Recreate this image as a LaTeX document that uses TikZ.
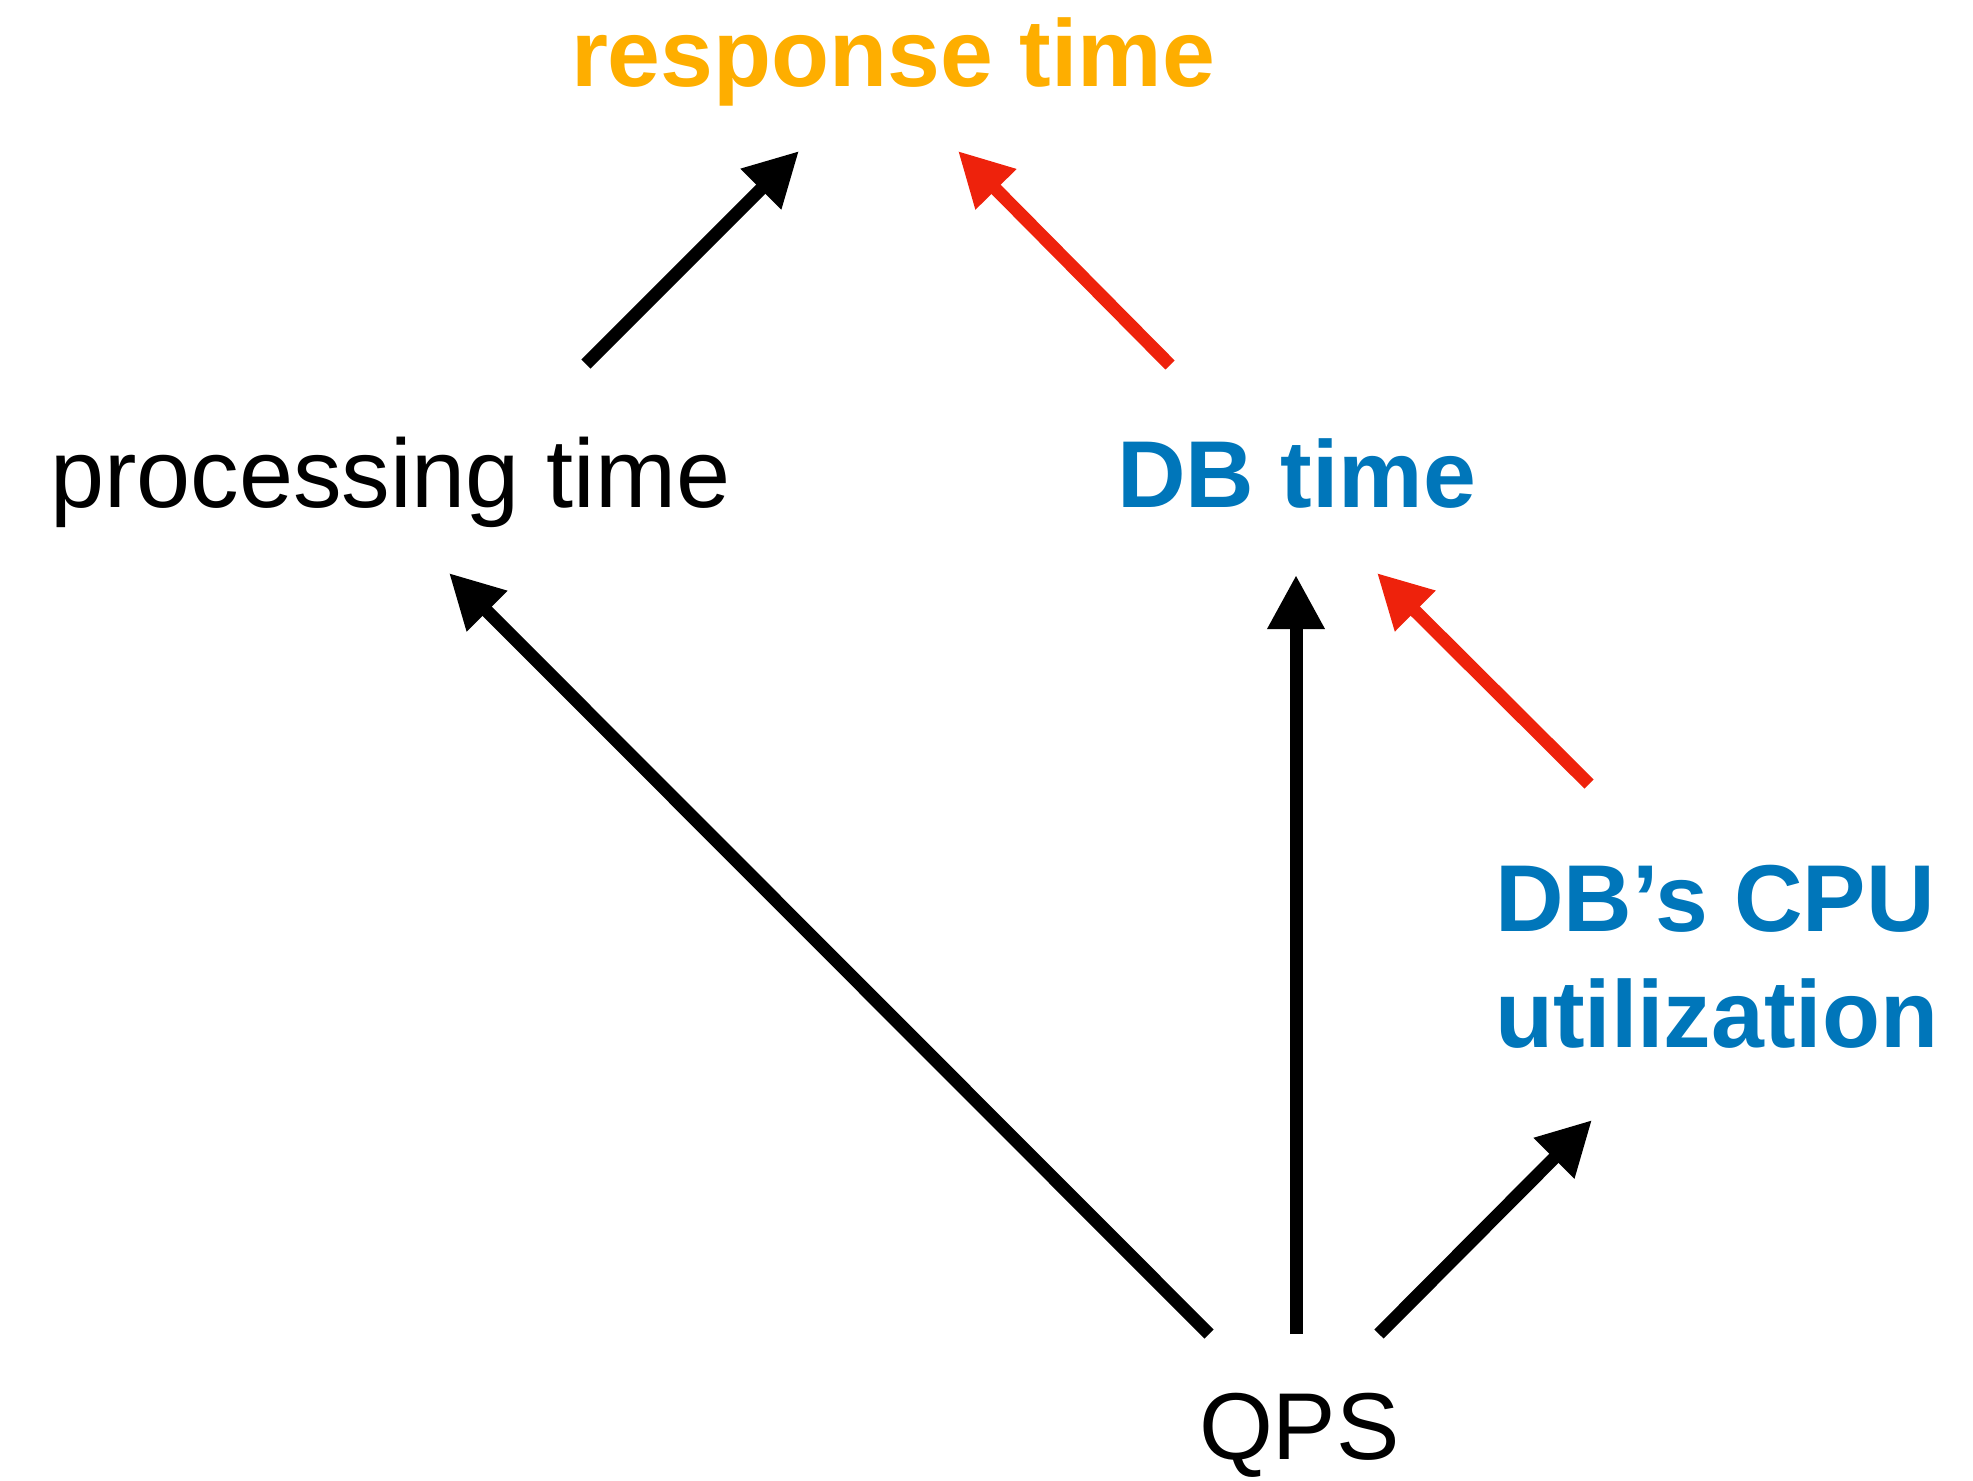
\documentclass[tikz,border=0pt]{standalone}
\usepackage{fontspec}
\setmainfont{Liberation Sans}
\usetikzlibrary{arrows.meta}
\definecolor{rtorange}{RGB}{254,174,0}
\definecolor{dbblue}{RGB}{0,118,186}
\definecolor{arrred}{RGB}{238,34,12}
\begin{document}
\begin{tikzpicture}[x=0.5pt,y=-0.5pt,
  lbl/.style={inner sep=0pt,outer sep=0pt,anchor=base west,font=\fontsize{47.5}{58}\selectfont},
  conn/.style={line width=6.5pt,-{Triangle[length=27pt,width=27pt]}},
  hot/.style={conn,draw=arrred,fill=arrred}]
\useasboundingbox (0,0) rectangle (1973,1480);
\node[lbl,text=rtorange,font=\fontsize{47.5}{58}\selectfont\bfseries] (resp) at (571,86) {response time};
\node[lbl,font=\fontsize{48.6}{58}\selectfont] (proc) at (50,507) {processing time};
\node[lbl,text=dbblue,font=\fontsize{47.5}{58}\selectfont\bfseries] (dbt) at (1117,507) {DB time};
\node[lbl,text=dbblue,font=\fontsize{47.5}{58}\selectfont\bfseries,align=left] (cpu) at (1495,1047) {DB’s CPU\\utilization};
\node[lbl] (qps) at (1199,1459) {QPS};
% arrow end points
\coordinate (a1s) at (586,364);  \coordinate (a1e) at (799,151);
\coordinate (a2s) at (1170,365); \coordinate (a2e) at (958,151);
\coordinate (a3s) at (1209,1334);\coordinate (a3e) at (449,573);
\coordinate (a4s) at (1296,1334);\coordinate (a4e) at (1296,575);
\coordinate (a5s) at (1589,784); \coordinate (a5e) at (1377,573);
\coordinate (a6s) at (1379,1334);\coordinate (a6e) at (1592,1120);
\draw[conn] (a1s) -- (a1e);
\draw[hot] (a2s) -- (a2e);
\draw[conn] (a3s) -- (a3e);
\draw[conn] (a4s) -- (a4e);
\draw[hot] (a5s) -- (a5e);
\draw[conn] (a6s) -- (a6e);
\end{tikzpicture}
\end{document}
